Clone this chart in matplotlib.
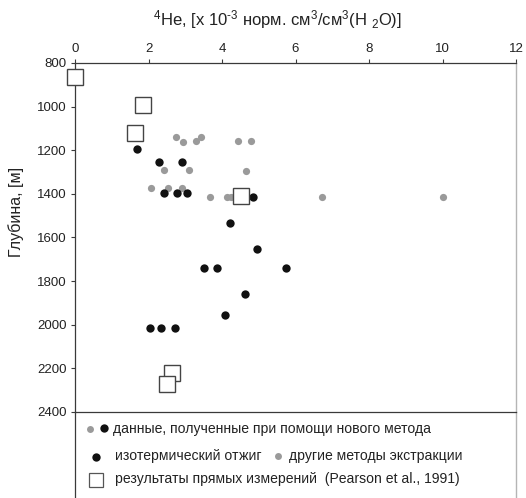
import matplotlib.pyplot as plt
from matplotlib.lines import Line2D

plt.rcParams['font.family'] = ['Liberation Sans', 'DejaVu Sans']

# isothermal annealing (black)
anneal_he = [1.68, 2.29, 2.90, 2.42, 2.77, 3.06, 4.83, 4.22, 4.94, 3.52, 3.86, 5.74, 4.63, 4.08, 2.04, 2.34, 2.71]
anneal_depth = [1194, 1255, 1255, 1398, 1398, 1398, 1413, 1533, 1652, 1739, 1739, 1739, 1857, 1957, 2014, 2014, 2014]

# other extraction methods (gray)
other_he = [2.75, 2.93, 3.29, 3.43, 4.44, 4.79, 2.42, 3.11, 4.66, 2.07, 2.52, 2.90, 3.67, 4.13, 4.25, 6.73, 10.0]
other_depth = [1138, 1161, 1159, 1138, 1159, 1159, 1291, 1291, 1294, 1375, 1375, 1372, 1413, 1413, 1413, 1413, 1413]

# direct measurements (Pearson et al., 1991)
pearson_he = [0.0, 1.86, 1.63, 4.53, 2.63, 2.49]
pearson_depth = [864, 993, 1123, 1412, 2222, 2270]

x_ticks = [0, 2, 4, 6, 8, 10, 12]
y_ticks = [800, 1000, 1200, 1400, 1600, 1800, 2000, 2200, 2400]

dark = '#3a3a3a'
gray_pt = '#9a9a9a'
black_pt = '#111111'
txt = '#222222'

W, H = 526, 498
fig = plt.figure(figsize=(W / 100, H / 100), dpi=100)

# legend panel below the plot (added first so the main axes spine stays on top)
lg = fig.add_axes([75 / W, 0, 441 / W, 1 - 412 / H])
lg.set_facecolor('none')
lg.set_xlim(0, 441)
lg.set_ylim(86, 0)
lg.set_xticks([])
lg.set_yticks([])
lg.spines['top'].set_visible(False)
lg.spines['bottom'].set_visible(False)
lg.spines['left'].set_color(dark)
lg.spines['left'].set_linewidth(0.9)
lg.spines['right'].set_color('#b5b5b5')
lg.spines['right'].set_linewidth(1.0)

lg.add_line(Line2D([15], [17], marker='o', color=gray_pt, ms=5, mew=0))
lg.add_line(Line2D([29], [16], marker='o', color=black_pt, ms=6, mew=0))
lg.text(38, 17, 'данные, полученные при помощи нового метода', fontsize=10.1, va='center', color=txt)
lg.add_line(Line2D([21], [45], marker='o', color=black_pt, ms=6, mew=0))
lg.text(40, 44, 'изотермический отжиг', fontsize=10.1, va='center', color=txt)
lg.add_line(Line2D([203], [44], marker='o', color=gray_pt, ms=5, mew=0))
lg.text(214, 44, 'другие методы экстракции', fontsize=10.1, va='center', color=txt)
lg.add_line(Line2D([21], [68], marker='s', mfc='white', mec='#555555', mew=0.9, ms=10))
lg.text(40, 67, 'результаты прямых измерений  (Pearson et al., 1991)', fontsize=10.1, va='center', color=txt)

ax = fig.add_axes([75 / W, 1 - 412 / H, 441 / W, 349 / H])
ax.set_facecolor('none')

ax.plot(other_he, other_depth, 'o', color=gray_pt, ms=5.2, mew=0, zorder=2)
ax.plot(anneal_he, anneal_depth, 'o', color=black_pt, ms=6, mew=0, zorder=3)
ax.plot(pearson_he, pearson_depth, 's', mfc='white', mec='#444444', mew=1.0, ms=11.5, zorder=4,
        clip_on=False)

ax.set_xlim(0, 12)
ax.set_ylim(2400, 800)
ax.set_xticks(x_ticks)
ax.set_yticks(y_ticks)
ax.xaxis.tick_top()
ax.tick_params(axis='both', direction='out', length=3, width=0.8, color=dark,
               labelsize=9.5, labelcolor=txt)
ax.tick_params(axis='x', pad=3)
ax.tick_params(axis='y', pad=3)
for s in ['top', 'left', 'bottom']:
    ax.spines[s].set_color(dark)
    ax.spines[s].set_linewidth(0.9)
ax.spines['right'].set_color('#b5b5b5')
ax.spines['right'].set_linewidth(1.0)

hy = '\u2010'
ax.text(0.46, 1.125,
        '$\\mathregular{^4}$He, [x 10$\\mathregular{^{' + hy + '3}}$ норм. см$\\mathregular{^3}$/см$\\mathregular{^3}$(H $\\mathregular{_2}$O)]',
        transform=ax.transAxes, ha='center', va='center', fontsize=12, color=txt)
ax.set_ylabel('Глубина, [м]', fontsize=11.5, color=txt)
ax.yaxis.set_label_coords(-0.116, 0.573)

fig.savefig('out.png', dpi=100)
